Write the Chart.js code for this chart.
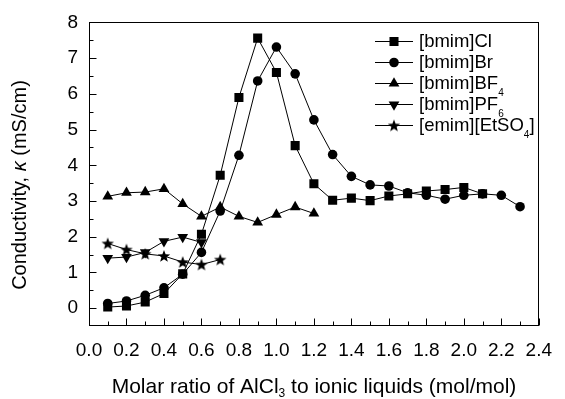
<!DOCTYPE html>
<html>
<head>
<meta charset="utf-8">
<script src="https://cdn.jsdelivr.net/npm/chart.js@4/dist/chart.umd.min.js"></script>
<style>
html, body { margin: 0; background: #fff; }
canvas { display: block; }
</style>
</head>
<body>
<canvas id="chart" width="565" height="399"></canvas>
<script>
// series names ("_n" marks a subscript)
const seriesNames = ['[bmim]Cl', '[bmim]Br', '[bmim]BF_4', '[bmim]PF_6', '[emim][EtSO_4]'];

// molar ratio AlCl3 / IL
const ratioCl = [0.1, 0.2, 0.3, 0.4, 0.5, 0.6, 0.7, 0.8, 0.9, 1.0, 1.1, 1.2, 1.3, 1.4, 1.5, 1.6, 1.7, 1.8, 1.9, 2.0, 2.1];
const ratioBr = [0.1, 0.2, 0.3, 0.4, 0.5, 0.6, 0.7, 0.8, 0.9, 1.0, 1.1, 1.2, 1.3, 1.4, 1.5, 1.6, 1.7, 1.8, 1.9, 2.0, 2.1, 2.2, 2.3];
const ratioBF4 = [0.1, 0.2, 0.3, 0.4, 0.5, 0.6, 0.7, 0.8, 0.9, 1.0, 1.1, 1.2];
const ratioPF6 = [0.1, 0.2, 0.3, 0.4, 0.5, 0.6];
const ratioEtSO4 = [0.1, 0.2, 0.3, 0.4, 0.5, 0.6, 0.7];

// conductivity, mS/cm
const kappaCl = [0.03, 0.06, 0.17, 0.41, 0.96, 2.07, 3.72, 5.9, 7.56, 6.6, 4.55, 3.48, 3.02, 3.08, 3.01, 3.14, 3.2, 3.28, 3.32, 3.38, 3.2];
const kappaBr = [0.13, 0.2, 0.36, 0.57, 0.95, 1.56, 2.72, 4.28, 6.36, 7.31, 6.56, 5.27, 4.3, 3.69, 3.45, 3.42, 3.23, 3.16, 3.05, 3.16, 3.2, 3.16, 2.84];
const kappaBF4 = [3.13, 3.23, 3.25, 3.34, 2.92, 2.57, 2.83, 2.57, 2.4, 2.62, 2.83, 2.65];
const kappaPF6 = [1.4, 1.43, 1.56, 1.87, 1.99, 1.84];
const kappaEtSO4 = [1.81, 1.64, 1.52, 1.46, 1.29, 1.22, 1.36];

// axis ticks
const xTicks = [0.0, 0.2, 0.4, 0.6, 0.8, 1.0, 1.2, 1.4, 1.6, 1.8, 2.0, 2.2, 2.4];
const xMinorTicks = [0.1, 0.3, 0.5, 0.7, 0.9, 1.1, 1.3, 1.5, 1.7, 1.9, 2.1, 2.3];
const yTicks = [0, 1, 2, 3, 4, 5, 6, 7, 8];
const yMinorTicks = [0.5, 1.5, 2.5, 3.5, 4.5, 5.5, 6.5, 7.5];

const FONT = '"Liberation Sans", Arial, sans-serif';

// filled five point star used as marker
function makeStar(size) {
    const cv = document.createElement('canvas');
    cv.width = size;
    cv.height = size;
    const c = cv.getContext('2d');
    const cx = size / 2, cy = size / 2 + 0.5;
    const ro = size / 2 - 0.5, ri = ro * 0.42;
    c.beginPath();
    for (let i = 0; i < 10; i++) {
        const r = i % 2 === 0 ? ro : ri;
        const a = -Math.PI / 2 + i * Math.PI / 5;
        c.lineTo(cx + r * Math.cos(a), cy + r * Math.sin(a));
    }
    c.closePath();
    c.fillStyle = '#000';
    c.fill();
    return cv;
}
const starImg = makeStar(14);

function pairs(xs, ys) {
    return xs.map((x, i) => ({ x: x, y: ys[i] }));
}

const markers = [
    { pointStyle: 'rect', pointRadius: 6.4, pointRotation: 0 },
    { pointStyle: 'circle', pointRadius: 4.8, pointRotation: 0 },
    { pointStyle: 'triangle', pointRadius: 6.2, pointRotation: 0 },
    { pointStyle: 'triangle', pointRadius: 6.2, pointRotation: 180 },
    { pointStyle: starImg, pointRadius: 7, pointRotation: 0 },
];

const seriesData = [
    pairs(ratioCl, kappaCl),
    pairs(ratioBr, kappaBr),
    pairs(ratioBF4, kappaBF4),
    pairs(ratioPF6, kappaPF6),
    pairs(ratioEtSO4, kappaEtSO4),
];

const datasets = seriesData.map((d, i) => ({
    label: seriesNames[i],
    data: d,
    showLine: true,
    borderColor: '#000',
    borderWidth: 1,
    backgroundColor: '#000',
    pointBackgroundColor: '#000',
    pointBorderColor: '#000',
    pointBorderWidth: 0,
    pointStyle: markers[i].pointStyle,
    pointRadius: markers[i].pointRadius,
    pointRotation: markers[i].pointRotation,
    pointHoverRadius: markers[i].pointRadius,
}));

// draws text where "_n" parts are subscripts, returns width
function drawRich(ctx, str, x, y, size, subSize, subDrop, measureOnly) {
    const parts = [];
    const re = /_(\w)/g;
    let last = 0, m;
    while ((m = re.exec(str)) !== null) {
        if (m.index > last) parts.push({ t: str.slice(last, m.index), sub: false });
        parts.push({ t: m[1], sub: true });
        last = re.lastIndex;
    }
    if (last < str.length) parts.push({ t: str.slice(last), sub: false });
    let cx = x;
    for (const p of parts) {
        ctx.font = (p.sub ? subSize : size) + 'px ' + FONT;
        if (!measureOnly) ctx.fillText(p.t, cx, p.sub ? y + subDrop : y);
        cx += ctx.measureText(p.t).width;
    }
    return cx - x;
}

const framePlugin = {
    id: 'frame',
    afterDraw(chart) {
        const ctx = chart.ctx;
        const a = chart.chartArea;
        const xs = chart.scales.x, ys = chart.scales.y;
        ctx.save();
        ctx.strokeStyle = '#000';
        ctx.lineWidth = 1;
        ctx.strokeRect(Math.round(a.left) + 0.5, Math.round(a.top) + 0.5,
            Math.round(a.right - a.left) - 1, Math.round(a.bottom - a.top) - 1);

        // inward ticks
        ctx.beginPath();
        const bottom = Math.round(a.bottom) - 0.5;
        const left = Math.round(a.left) + 0.5;
        xTicks.forEach(v => {
            const px = Math.round(xs.getPixelForValue(v)) + 0.5;
            ctx.moveTo(px, bottom); ctx.lineTo(px, bottom - 7);
        });
        xMinorTicks.forEach(v => {
            const px = Math.round(xs.getPixelForValue(v)) + 0.5;
            ctx.moveTo(px, bottom); ctx.lineTo(px, bottom - 4);
        });
        yTicks.forEach(v => {
            const py = Math.round(ys.getPixelForValue(v)) + 0.5;
            ctx.moveTo(left, py); ctx.lineTo(left + 7, py);
        });
        yMinorTicks.forEach(v => {
            const py = Math.round(ys.getPixelForValue(v)) + 0.5;
            ctx.moveTo(left, py); ctx.lineTo(left + 4, py);
        });
        ctx.stroke();

        // axis titles
        ctx.fillStyle = '#000';
        ctx.textBaseline = 'alphabetic';
        ctx.textAlign = 'left';
        const xTitle = 'Molar ratio of AlCl_3 to ionic liquids (mol/mol)';
        const w = drawRich(ctx, xTitle, 0, 0, 21, 12, 4, true);
        drawRich(ctx, xTitle, 314 - w / 2, 393, 21, 12, 4, false);

        ctx.translate(26, 185);
        ctx.rotate(-Math.PI / 2);
        const p1 = 'Conductivity, ', p2 = '\u03BA', p3 = ' (mS/cm)';
        ctx.font = '20px ' + FONT;
        const w1 = ctx.measureText(p1).width, w3 = ctx.measureText(p3).width;
        ctx.font = 'italic 20px ' + FONT;
        const w2 = ctx.measureText(p2).width;
        let tx = -(w1 + w2 + w3) / 2;
        ctx.font = '20px ' + FONT;
        ctx.fillText(p1, tx, 0); tx += w1;
        ctx.font = 'italic 20px ' + FONT;
        ctx.fillText(p2, tx, 0); tx += w2;
        ctx.font = '20px ' + FONT;
        ctx.fillText(p3, tx, 0);
        ctx.restore();

        // legend
        ctx.save();
        ctx.fillStyle = '#000';
        ctx.strokeStyle = '#000';
        chart.data.datasets.forEach((ds, i) => {
            const y = 41 + i * 21;
            ctx.lineWidth = 1;
            ctx.beginPath();
            ctx.moveTo(375, y + 0.5);
            ctx.lineTo(413, y + 0.5);
            ctx.stroke();
            Chart.helpers.drawPoint(ctx, {
                pointStyle: ds.pointStyle,
                radius: ds.pointRadius,
                rotation: ds.pointRotation,
                borderWidth: 0,
            }, 394, y + 0.5);
            ctx.fillStyle = '#000';
            ctx.textBaseline = 'alphabetic';
            ctx.textAlign = 'left';
            drawRich(ctx, ds.label, 419, y + 6, 18.5, 10, 7, false);
        });
        ctx.restore();
    }
};

new Chart(document.getElementById('chart'), {
    type: 'scatter',
    data: { datasets: datasets },
    plugins: [framePlugin],
    options: {
        responsive: false,
        animation: false,
        layout: { padding: { top: 20, right: 15, left: 0, bottom: 0 } },
        plugins: {
            legend: { display: false },
            tooltip: { enabled: false },
        },
        scales: {
            x: {
                type: 'linear',
                min: 0,
                max: 2.4,
                grid: { display: false, drawTicks: false },
                border: { display: false },
                afterBuildTicks: s => { s.ticks = xTicks.map(v => ({ value: v })); },
                afterFit: s => { s.height = 73; },
                ticks: {
                    color: '#000',
                    padding: 13,
                    maxRotation: 0,
                    autoSkip: false,
                    font: { family: FONT, size: 19 },
                    callback: v => Number(v).toFixed(1),
                },
            },
            y: {
                type: 'linear',
                min: -0.5,
                max: 8,
                grid: { display: false, drawTicks: false },
                border: { display: false },
                afterBuildTicks: s => { s.ticks = yTicks.map(v => ({ value: v })); },
                afterFit: s => { s.width = 89; },
                ticks: {
                    color: '#000',
                    padding: 11,
                    font: { family: FONT, size: 19 },
                    callback: v => String(v),
                },
            },
        },
    },
});
</script>
</body>
</html>
